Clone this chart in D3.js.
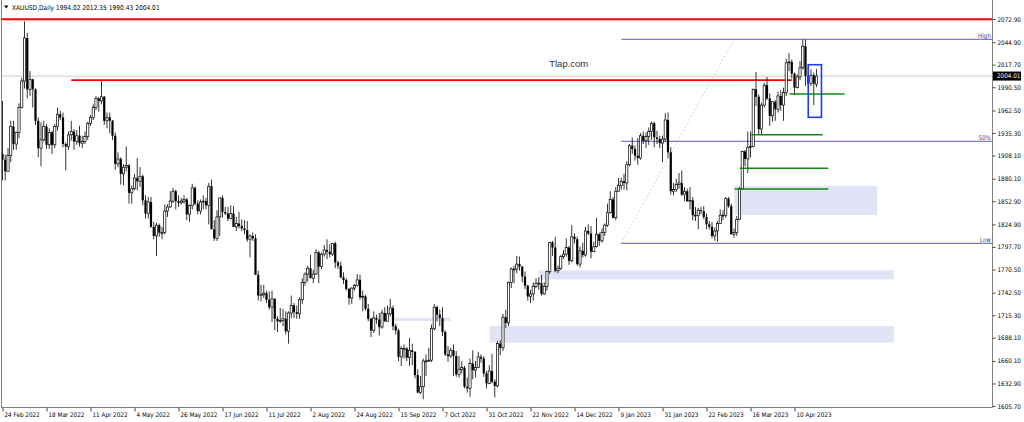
<!DOCTYPE html>
<html><head><meta charset="utf-8">
<script src="https://cdn.jsdelivr.net/npm/d3@7/dist/d3.min.js"></script>
<style>
body{margin:0;background:#fff}
svg{display:block}
text{font-family:"DejaVu Sans Condensed","Liberation Sans",Arial,sans-serif}
</style>
</head><body>
<svg id="chart" width="1024" height="422"></svg>
<script>
// ---------- DATA ----------
const symbolTitle = "XAUUSD,Daily";
const lastBarValues = ["1994.02", "2012.35", "1990.43", "2004.01"];
const currentPrice = 2004.01;

// daily candles, 24 Feb 2022 .. 20 Apr 2023 (297 bars)
const open = [
1910,1903,1889,1908,1943,1922,1936,1966,1998,2050,
1988,2000,1988,1950,1917,1927,1943,1921,1936,1921,
1943,1958,1954,1922,1919,1933,1937,1925,1932,1923,
1925,1931,1947,1954,1966,1977,1974,1979,1950,1954,
1950,1932,1898,1904,1886,1894,1896,1863,1868,1881,
1877,1883,1854,1838,1852,1822,1811,1824,1815,1815,
1841,1846,1853,1865,1853,1851,1853,1855,1837,1848,
1869,1850,1841,1852,1853,1848,1871,1819,1808,1834,
1857,1840,1838,1832,1838,1822,1826,1823,1820,1818,
1807,1811,1808,1764,1739,1740,1742,1734,1725,1735,
1711,1708,1709,1711,1696,1718,1727,1719,1717,1734,
1755,1765,1772,1760,1765,1791,1774,1789,1794,1792,
1789,1802,1779,1775,1761,1758,1747,1736,1748,1751,
1758,1737,1738,1723,1711,1697,1712,1710,1701,1718,
1708,1717,1724,1702,1697,1665,1675,1675,1664,1673,
1671,1643,1622,1629,1660,1660,1661,1699,1725,1716,
1712,1695,1668,1666,1673,1666,1644,1650,1652,1629,
1627,1657,1649,1652,1665,1663,1645,1633,1648,1635,
1630,1681,1676,1713,1706,1755,1771,1771,1777,1774,
1762,1751,1738,1741,1750,1754,1754,1741,1750,1768,
1803,1797,1769,1772,1786,1789,1797,1781,1810,1807,
1777,1793,1788,1817,1814,1792,1798,1813,1805,1815,
1824,1839,1855,1833,1865,1872,1877,1875,1897,1920,
1916,1908,1905,1932,1926,1931,1937,1947,1930,1928,
1923,1928,1951,1912,1865,1867,1873,1875,1861,1865,
1853,1854,1836,1836,1842,1841,1834,1825,1822,1811,
1817,1826,1836,1836,1856,1847,1813,1815,1831,1868,
1913,1904,1918,1919,1988,1979,1940,1969,1993,1977,
1956,1973,1964,1980,1969,1984,2020,2021,2007,1990,
2003,2014,2040,2004,1995,2005,1994.02
];
const high = [
1974,1909,1917,1950,1950,1937,1971,2002,2070,2056,
2010,2001,1989,1954,1948,1950,1946,1941,1938,1946,
1966,1962,1960,1924,1937,1950,1940,1939,1944,1932,
1937,1949,1957,1970,1980,1979,1998,1980,1960,1960,
1951,1936,1912,1906,1898,1919,1898,1872,1886,1905,
1894,1885,1860,1858,1858,1828,1827,1826,1822,1849,
1849,1865,1869,1867,1860,1857,1860,1857,1849,1874,
1871,1854,1855,1860,1857,1875,1879,1830,1842,1857,
1860,1846,1846,1848,1847,1834,1840,1831,1830,1829,
1813,1815,1813,1769,1752,1752,1745,1744,1745,1736,
1714,1724,1723,1720,1720,1739,1730,1727,1737,1760,
1767,1775,1788,1770,1795,1793,1791,1800,1807,1801,
1802,1804,1781,1780,1767,1760,1748,1749,1753,1765,
1764,1745,1740,1729,1712,1720,1716,1718,1722,1725,
1727,1735,1727,1705,1699,1678,1680,1677,1688,1681,
1672,1650,1642,1663,1668,1676,1704,1729,1727,1722,
1725,1697,1678,1676,1680,1672,1666,1660,1654,1640,
1663,1673,1660,1671,1668,1666,1648,1655,1669,1638,
1684,1685,1717,1722,1756,1773,1775,1787,1786,1775,
1768,1752,1746,1755,1760,1761,1764,1755,1769,1804,
1805,1810,1775,1788,1794,1808,1799,1824,1814,1810,
1798,1803,1822,1825,1823,1804,1833,1815,1820,1826,
1850,1865,1858,1870,1881,1881,1886,1901,1922,1930,
1920,1929,1935,1937,1936,1942,1949,1949,1938,1932,
1932,1959,1960,1918,1875,1880,1887,1890,1870,1868,
1870,1858,1846,1845,1846,1847,1838,1829,1828,1821,
1829,1843,1842,1858,1858,1850,1820,1835,1870,1914,
1915,1937,1937,1989,2009,1982,1972,1996,2003,1983,
1974,1975,1985,1987,1990,2025,2032,2024,2008,2006,
2022,2048,2048,2015,2012,2008,2012.35
];
const low = [
1878,1878,1889,1900,1915,1915,1929,1965,1989,1977,
1980,1966,1945,1906,1895,1925,1916,1916,1910,1917,
1938,1951,1918,1890,1915,1926,1915,1921,1919,1917,
1922,1927,1944,1951,1963,1961,1970,1945,1941,1935,
1927,1891,1894,1873,1872,1889,1850,1850,1866,1866,
1870,1848,1832,1832,1821,1807,1787,1810,1807,1813,
1834,1845,1851,1843,1846,1849,1850,1830,1828,1843,
1848,1837,1837,1843,1843,1825,1820,1805,1805,1811,
1833,1836,1829,1831,1822,1817,1820,1817,1813,1804,
1785,1805,1764,1733,1732,1736,1730,1722,1707,1697,
1695,1706,1702,1692,1681,1712,1712,1711,1711,1729,
1751,1756,1760,1754,1764,1754,1771,1786,1783,1785,
1787,1772,1771,1760,1753,1745,1728,1729,1745,1750,
1734,1720,1721,1708,1689,1694,1705,1691,1699,1707,
1708,1714,1697,1692,1660,1654,1663,1660,1654,1655,
1639,1621,1620,1614,1642,1659,1659,1697,1708,1702,
1690,1666,1659,1664,1642,1641,1640,1645,1627,1622,
1617,1638,1640,1652,1658,1641,1627,1632,1633,1616,
1628,1667,1672,1700,1702,1748,1754,1766,1769,1755,
1747,1733,1730,1733,1748,1746,1739,1740,1745,1765,
1787,1767,1766,1770,1783,1786,1776,1779,1802,1775,
1773,1785,1786,1812,1784,1792,1797,1799,1803,1811,
1822,1838,1832,1830,1865,1867,1867,1866,1895,1910,
1902,1897,1903,1922,1917,1921,1927,1918,1922,1917,
1900,1925,1905,1861,1860,1864,1868,1859,1853,1852,
1843,1830,1829,1819,1837,1831,1819,1819,1808,1805,
1804,1826,1830,1833,1845,1813,1809,1811,1830,1867,
1895,1887,1906,1918,1968,1934,1934,1966,1975,1944,
1949,1950,1960,1962,1950,1980,2010,2001,1981,1989,
1999,2012,1992,1991,1992,1969,1990.43
];
const close = [
1903,1889,1908,1943,1922,1936,1966,1998,2050,1988,
2000,1988,1950,1917,1927,1943,1921,1936,1921,1943,
1958,1954,1922,1919,1933,1937,1925,1932,1923,1925,
1931,1947,1954,1966,1977,1974,1979,1950,1954,1950,
1932,1898,1904,1886,1894,1896,1863,1868,1881,1877,
1883,1854,1838,1852,1822,1811,1824,1815,1815,1841,
1846,1853,1865,1853,1851,1853,1855,1837,1848,1869,
1850,1841,1852,1853,1848,1871,1819,1808,1834,1857,
1840,1838,1832,1838,1822,1826,1823,1820,1818,1807,
1811,1808,1764,1739,1740,1742,1734,1725,1735,1711,
1708,1709,1711,1696,1718,1727,1719,1717,1734,1755,
1765,1772,1760,1765,1791,1774,1789,1794,1792,1789,
1802,1779,1775,1761,1758,1747,1736,1748,1751,1758,
1737,1738,1723,1711,1697,1712,1710,1701,1718,1708,
1717,1724,1702,1697,1665,1675,1675,1664,1673,1671,
1643,1622,1629,1660,1660,1661,1699,1725,1716,1712,
1695,1668,1666,1673,1666,1644,1650,1652,1629,1627,
1657,1649,1652,1665,1663,1645,1633,1648,1635,1630,
1681,1676,1713,1706,1755,1771,1771,1777,1774,1762,
1751,1738,1741,1750,1754,1754,1741,1750,1768,1803,
1797,1769,1772,1786,1789,1797,1781,1810,1807,1777,
1793,1788,1817,1814,1792,1798,1813,1805,1815,1824,
1839,1855,1833,1865,1872,1877,1875,1897,1920,1916,
1908,1905,1932,1926,1931,1937,1947,1930,1928,1923,
1928,1951,1912,1865,1867,1873,1875,1861,1865,1853,
1854,1836,1836,1842,1841,1834,1825,1822,1811,1817,
1826,1836,1836,1856,1847,1813,1815,1831,1868,1913,
1904,1918,1919,1988,1979,1940,1969,1993,1977,1956,
1973,1964,1980,1969,1984,2020,2021,2007,1990,2003,
2014,2040,2004,1995,2005,1995,2004.01
];

// time axis labels (bar index of each label)
const dateTickIndex = [0,16,32,48,64,80,96,112,128,144,160,176,192,208,224,240,256,272,288];
const dateTickLabels = ["24 Feb 2022","18 Mar 2022","11 Apr 2022","4 May 2022","26 May 2022",
  "17 Jun 2022","11 Jul 2022","2 Aug 2022","24 Aug 2022","15 Sep 2022","7 Oct 2022",
  "31 Oct 2022","22 Nov 2022","14 Dec 2022","9 Jan 2023","31 Jan 2023","22 Feb 2023",
  "16 Mar 2023","10 Apr 2023"];
// price axis labels
const priceTicks = [2072.90,2044.90,2017.70,1990.50,1962.50,1935.30,1908.10,1880.10,1852.90,
  1824.90,1797.70,1770.50,1742.50,1715.30,1688.10,1660.10,1632.90,1605.70];

// drawn objects (price levels, bar-index spans)
const redLevelPrice = [2072.6, 1999.0];
const redLevelFrom  = [-2, 25];
const redLevelTo    = [null, 287];
const fiboNames  = ["High", "50%", "Low"];
const fiboPrices = [2048.4, 1925.25, 1802.1];
const fiboAnchorIdx = [225, 266];          // low anchor bar, high anchor bar
const greenPrices = [1982.4, 1933.2, 1892.7, 1867.7];
const greenFrom   = [286.2, 272.3, 268.1, 266.2];
const greenTo     = [306.2, 298.2, 300.3, 300.3];
const zoneTop    = [1871.6, 1769.5, 1702.3, 1712.3];
const zoneBottom = [1836.3, 1758.6, 1682.3, 1708.3];
const zoneFrom   = [266.2, 195.0, 177.1, 142.7];
const zoneTo     = [318.1, 324.1, 324.1, 162.9];
const boxTop = 2017.7, boxBottom = 1954.2, boxFrom = 293.0, boxTo = 297.8;
const watermark = "Tlap.com";
const watermarkPos = [198.8, 2014.5]; // bar index, price

// ---------- CHART ----------
const W = 1024, H = 422;
const plotRight = 992.5, plotBottom = 407.5;
const svg = d3.select("#chart");
const n = close.length;
const x = d3.scaleLinear().domain([0, n - 1]).range([2.5, 816.5]);
const y = d3.scaleLinear().domain([1605.7, 2072.9]).range([406, 19]);

svg.append("defs").append("clipPath").attr("id", "clip")
  .append("rect").attr("x", 1).attr("y", 0).attr("width", plotRight - 1).attr("height", plotBottom);

const plot = svg.append("g").attr("clip-path", "url(#clip)");

// zones
plot.selectAll("rect.zone").data(zoneTop).join("rect").attr("class", "zone")
  .attr("x", (d, i) => x(zoneFrom[i]))
  .attr("width", (d, i) => x(zoneTo[i]) - x(zoneFrom[i]))
  .attr("y", d => y(d))
  .attr("height", (d, i) => y(zoneBottom[i]) - y(d))
  .attr("fill", "#e3e3f8");

// current price line
plot.append("line").attr("x1", 0).attr("x2", plotRight).attr("y1", y(currentPrice)).attr("y2", y(currentPrice))
  .attr("stroke", "#d8d8d8").attr("stroke-width", 1.2);

// fibo
plot.append("line")
  .attr("x1", x(fiboAnchorIdx[0])).attr("y1", y(fiboPrices[2]))
  .attr("x2", x(fiboAnchorIdx[1])).attr("y2", y(fiboPrices[0]))
  .attr("stroke", "#f3b3b3").attr("stroke-width", 0.8).attr("stroke-dasharray", "2,2");
plot.selectAll("line.fibo").data(fiboPrices).join("line").attr("class", "fibo")
  .attr("x1", x(fiboAnchorIdx[0])).attr("x2", plotRight)
  .attr("y1", d => y(d)).attr("y2", d => y(d))
  .attr("stroke", "#4a4aa8").attr("stroke-width", 0.9);
svg.selectAll("text.fibo").data(fiboPrices).join("text").attr("class", "fibo")
  .attr("x", plotRight - 1.5).attr("y", d => y(d) - 1.5)
  .attr("text-anchor", "end").attr("font-size", 6.3).attr("fill", "#3c3ca0")
  .text((d, i) => fiboNames[i]);

// red levels
plot.selectAll("line.red").data(redLevelPrice).join("line").attr("class", "red")
  .attr("x1", (d, i) => x(redLevelFrom[i]))
  .attr("x2", (d, i) => redLevelTo[i] === null ? plotRight : x(redLevelTo[i]))
  .attr("y1", d => y(d)).attr("y2", d => y(d))
  .attr("stroke", "#ff0000").attr("stroke-width", 1.8);

// candles
const idx = d3.range(n);
const cg = plot.append("g");
cg.selectAll("line.wick").data(idx).join("line").attr("class", "wick")
  .attr("x1", i => x(i)).attr("x2", i => x(i))
  .attr("y1", i => y(high[i])).attr("y2", i => y(low[i]))
  .attr("stroke", "#000").attr("stroke-width", 0.8);
cg.selectAll("rect.body").data(idx).join("rect").attr("class", "body")
  .attr("x", i => x(i) - 1.1).attr("width", 2.2)
  .attr("y", i => y(Math.max(open[i], close[i])))
  .attr("height", i => Math.max(0.8, Math.abs(y(open[i]) - y(close[i]))))
  .attr("fill", i => close[i] >= open[i] ? "#ffffff" : "#000000")
  .attr("stroke", "#000").attr("stroke-width", i => close[i] >= open[i] ? 0.7 : 0);

// green lines
plot.selectAll("line.green").data(greenPrices).join("line").attr("class", "green")
  .attr("x1", (d, i) => x(greenFrom[i])).attr("x2", (d, i) => x(greenTo[i]))
  .attr("y1", d => y(d)).attr("y2", d => y(d))
  .attr("stroke", "#118811").attr("stroke-width", 1.6);

// blue box
plot.append("rect")
  .attr("x", x(boxFrom)).attr("width", x(boxTo) - x(boxFrom))
  .attr("y", y(boxTop)).attr("height", y(boxBottom) - y(boxTop))
  .attr("fill", "none").attr("stroke", "#1a3cff").attr("stroke-width", 1.6);

// watermark
svg.append("text").attr("x", x(watermarkPos[0])).attr("y", y(watermarkPos[1]))
  .attr("font-size", 9.5).attr("fill", "#333").style("font-family", "'Liberation Sans',Arial,sans-serif")
  .text(watermark);

// frame
svg.append("path")
  .attr("d", `M1.5,0 V${plotBottom} H${plotRight} V0`)
  .attr("fill", "none").attr("stroke", "#808080").attr("stroke-width", 1);

// header
svg.append("path").attr("d", "M4,5.5 L8.5,5.5 L6.25,8.5 Z").attr("fill", "#000");
svg.append("text").attr("x", 12).attr("y", 9.5).attr("font-size", 6.6).attr("fill", "#000")
  .text(symbolTitle + "  " + lastBarValues.join(" "));

// right price axis
const yAxis = svg.append("g").attr("transform", `translate(${plotRight},0)`)
  .call(d3.axisRight(y).tickValues(priceTicks).tickSize(3).tickPadding(2).tickFormat(d3.format(".2f")));
yAxis.select(".domain").remove();
yAxis.selectAll("line").attr("stroke", "#444");
yAxis.selectAll("text").attr("font-size", 6.3).attr("fill", "#000")
  .style("font-family", "'DejaVu Sans Condensed','Liberation Sans',Arial,sans-serif");

// current price tag
const cpy = y(currentPrice);
svg.append("rect").attr("x", plotRight + 0.5).attr("y", cpy - 4.5).attr("width", 28).attr("height", 9).attr("fill", "#000");
svg.append("text").attr("x", plotRight + 4.5).attr("y", cpy).attr("dy", "0.35em")
  .attr("font-size", 6.3).attr("fill", "#fff").text(d3.format(".2f")(currentPrice));

// bottom time axis
const xAxis = svg.append("g").attr("transform", `translate(0,${plotBottom})`)
  .call(d3.axisBottom(x).tickValues(dateTickIndex).tickSize(4)
    .tickFormat((d, i) => dateTickLabels[i]));
xAxis.select(".domain").remove();
xAxis.selectAll("line").attr("stroke", "#444");
xAxis.selectAll("text").attr("text-anchor", "start").attr("x", 1.5).attr("y", 5).attr("dy", "0.71em")
  .attr("font-size", 6.3).attr("fill", "#000")
  .style("font-family", "'DejaVu Sans Condensed','Liberation Sans',Arial,sans-serif");
</script>
</body></html>
